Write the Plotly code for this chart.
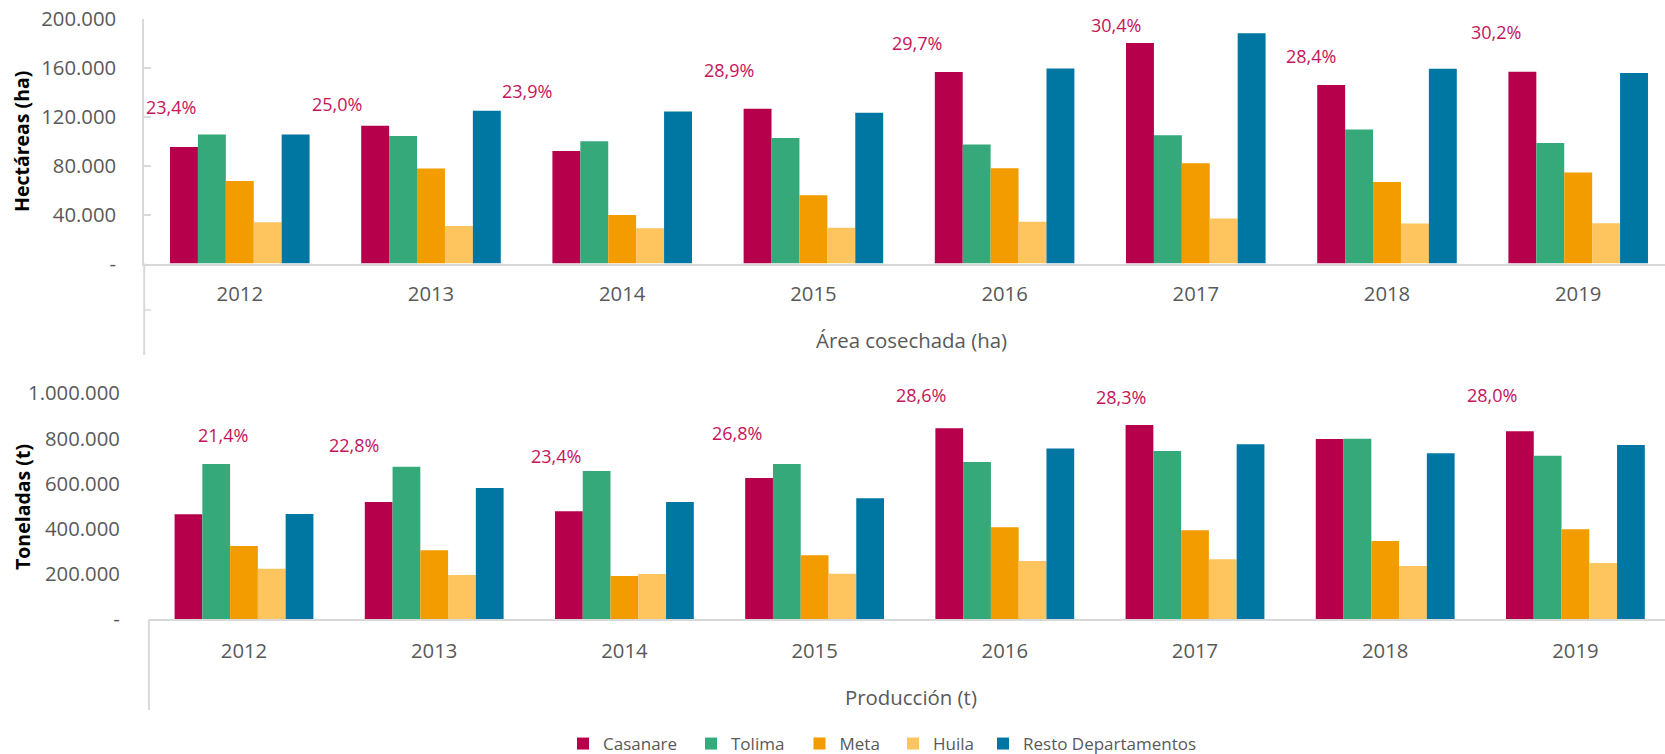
import plotly.graph_objects as go

# ---------------- data ----------------
years = ["2012", "2013", "2014", "2015", "2016", "2017", "2018", "2019"]
series = ["Casanare", "Tolima", "Meta", "Huila", "Resto Departamentos"]

area_casanare = [95200, 112700, 92000, 126600, 156600, 180400, 146000, 156900]
area_tolima = [105600, 104200, 100100, 102600, 97400, 105000, 109700, 98500]
area_meta = [67400, 77800, 39600, 55900, 78000, 82100, 66600, 74500]
area_huila = [33800, 30600, 28900, 29200, 34100, 36800, 32700, 33000]
area_resto = [105600, 125000, 124400, 123300, 159600, 188300, 159300, 155800]

prod_casanare = [464600, 519200, 477900, 625400, 845100, 859900, 797900, 831900]
prod_tolima = [687300, 675500, 656300, 687300, 696200, 744800, 799400, 724200]
prod_meta = [324500, 305300, 191700, 283200, 407100, 393800, 346600, 398200]
prod_huila = [224200, 196200, 200600, 202100, 258100, 265500, 236000, 249300]
prod_resto = [466100, 581100, 519200, 535400, 755200, 774300, 734500, 771400]

area_share_labels = ["23,4%", "25,0%", "23,9%", "28,9%", "29,7%", "30,4%", "28,4%", "30,2%"]
prod_share_labels = ["21,4%", "22,8%", "23,4%", "26,8%", "28,6%", "28,3%", "27,3%", "28,0%"]

area_ticks = [0, 40000, 80000, 120000, 160000, 200000]
prod_ticks = [0, 200000, 400000, 600000, 800000, 1000000]

# ---------------- style / layout ----------------
W, H = 1665, 754
colors = ["#B7004B", "#36A97B", "#F29C00", "#FEC55E", "#0077A2"]
label_color = "#C4145A"
grey = "#595959"
axis_grey = "#D9D9D9"
FONT = "Open Sans"

# label placement (category offset from group centre, y in data units)
area_lbl_dx = [-0.36, -0.49, -0.50, -0.44, -0.46, -0.42, -0.40, -0.43]
area_lbl_y = [128000, 130500, 141100, 158300, 180600, 195100, 170000, 189600]
prod_lbl_dx = [-0.11, -0.42, -0.36, -0.41, -0.44, -0.39, -0.44, -0.44]
prod_lbl_y = [815500, 771000, 724000, 825700, 992500, 985000, 1002700, 992500]

# legend swatch positions (page pixels)
legend_sq_x = [579.0, 707.0, 815.5, 909.0, 999.0]
legend_y_px = 744


def px_x(x):
    return x / W


def px_y(y):
    return 1 - y / H


def fmt(v):
    return "-" if v == 0 else f"{v:,.0f}".replace(",", ".")


area_data = [area_casanare, area_tolima, area_meta, area_huila, area_resto]
prod_data = [prod_casanare, prod_tolima, prod_meta, prod_huila, prod_resto]
legend_ids = ["legend", "legend2", "legend3", "legend4", "legend5"]

fig = go.Figure()
for name, vals, col, lg in zip(series, area_data, colors, legend_ids):
    fig.add_trace(go.Bar(x=years, y=vals, name=name, marker=dict(color=col, line=dict(width=0)),
                         xaxis="x", yaxis="y", legendgroup=name, showlegend=True, legend=lg))
for name, vals, col in zip(series, prod_data, colors):
    fig.add_trace(go.Bar(x=years, y=vals, name=name, marker=dict(color=col, line=dict(width=0)),
                         xaxis="x2", yaxis="y2", legendgroup=name, showlegend=False))

# plot area geometry (page pixels)
top_left, top_zero, top_max = 144.2, 263.5, 19.0
top_step = 191.2
bot_left, bot_zero, bot_max = 148.9, 619.3, 393.3
bot_step = 190.2

tickfont = dict(family=FONT, size=20.3, color=grey)

fig.update_layout(
    width=W, height=H,
    margin=dict(l=0, r=0, t=0, b=0, autoexpand=False),
    paper_bgcolor="white", plot_bgcolor="white",
    barmode="group", bargap=0.27, bargroupgap=0,
    font=dict(family=FONT, color=grey),
    xaxis=dict(domain=[px_x(top_left), 1], anchor="y", type="category", automargin=False,
               range=[-0.5, (W - top_left) / top_step - 0.5],
               showline=True, linecolor=axis_grey, linewidth=2, ticks="",
               tickfont=tickfont, ticklabelstandoff=11, ticklabeloverflow="allow",
               showgrid=False, zeroline=False),
    yaxis=dict(domain=[px_y(top_zero), px_y(top_max)], anchor="x", automargin=False,
               range=[0, 200000], tickvals=area_ticks, ticktext=[fmt(v) for v in area_ticks],
               showline=True, linecolor=axis_grey, linewidth=2,
               ticks="inside", ticklen=7, tickcolor=axis_grey, tickwidth=1.5,
               tickfont=tickfont, ticklabelstandoff=22, ticklabeloverflow="allow",
               showgrid=False, zeroline=False),
    xaxis2=dict(domain=[px_x(bot_left), 1], anchor="y2", type="category", automargin=False,
                range=[-0.5, (W - bot_left) / bot_step - 0.5],
                showline=True, linecolor=axis_grey, linewidth=2, ticks="",
                tickfont=tickfont, ticklabelstandoff=12, ticklabeloverflow="allow",
                showgrid=False, zeroline=False),
    yaxis2=dict(domain=[px_y(bot_zero), px_y(bot_max)], anchor="x2", automargin=False,
                range=[0, 1000000], tickvals=prod_ticks, ticktext=[fmt(v) for v in prod_ticks],
                showline=False, ticks="",
                tickfont=tickfont, ticklabelstandoff=28, ticklabeloverflow="allow",
                showgrid=False, zeroline=False),
    showlegend=True,
)

legend_common = dict(orientation="h", yanchor="middle", xanchor="left",
                     font=dict(family=FONT, size=17, color=grey),
                     itemclick=False, itemdoubleclick=False, bgcolor="rgba(0,0,0,0)",
                     borderwidth=0)
for lg, sx in zip(legend_ids, legend_sq_x):
    fig.update_layout({lg: dict(x=px_x(sx - 16), y=px_y(legend_y_px), **legend_common)})

annotations = []
for i, (t, dx, yv) in enumerate(zip(area_share_labels, area_lbl_dx, area_lbl_y)):
    annotations.append(dict(x=i + dx, y=yv, xref="x", yref="y", text=t, showarrow=False,
                            xanchor="center", yanchor="middle",
                            font=dict(family=FONT, size=18, color=label_color)))
for i, (t, dx, yv) in enumerate(zip(prod_share_labels, prod_lbl_dx, prod_lbl_y)):
    annotations.append(dict(x=i + dx, y=yv, xref="x2", yref="y2", text=t, showarrow=False,
                            xanchor="center", yanchor="middle",
                            font=dict(family=FONT, size=18, color=label_color)))

annotations += [
    dict(x=px_x(22), y=px_y(142), xref="paper", yref="paper", text="<b>Hectáreas (ha)</b>",
         textangle=-90, showarrow=False, xanchor="center", yanchor="middle",
         font=dict(family=FONT, size=19.5, color="black")),
    dict(x=px_x(22), y=px_y(507), xref="paper", yref="paper", text="<b>Toneladas (t)</b>",
         textangle=-90, showarrow=False, xanchor="center", yanchor="middle",
         font=dict(family=FONT, size=19.5, color="black")),
    dict(x=px_x(911), y=px_y(340), xref="paper", yref="paper", text="Área cosechada (ha)",
         showarrow=False, xanchor="center", yanchor="middle",
         font=dict(family=FONT, size=20.4, color=grey)),
    dict(x=px_x(911), y=px_y(697), xref="paper", yref="paper", text="Producción (t)",
         showarrow=False, xanchor="center", yanchor="middle",
         font=dict(family=FONT, size=20.4, color=grey)),
]
fig.update_layout(annotations=annotations)

shapes = [
    dict(type="line", xref="paper", yref="paper", x0=px_x(top_left), x1=px_x(top_left),
         y0=px_y(top_zero), y1=px_y(355), line=dict(color=axis_grey, width=2)),
    dict(type="line", xref="paper", yref="paper", x0=px_x(top_left), x1=px_x(top_left + 7),
         y0=px_y(310), y1=px_y(310), line=dict(color=axis_grey, width=1.5)),
    dict(type="line", xref="paper", yref="paper", x0=px_x(bot_left), x1=px_x(bot_left),
         y0=px_y(bot_zero), y1=px_y(710), line=dict(color=axis_grey, width=2)),
]
fig.update_layout(shapes=shapes)

# remove the browser's default 8px body margin so the figure fills the window exactly
fig.write_html("out.html",
               config={"displayModeBar": False},
               post_script="document.body.style.margin='0';document.body.style.overflow='hidden';")
